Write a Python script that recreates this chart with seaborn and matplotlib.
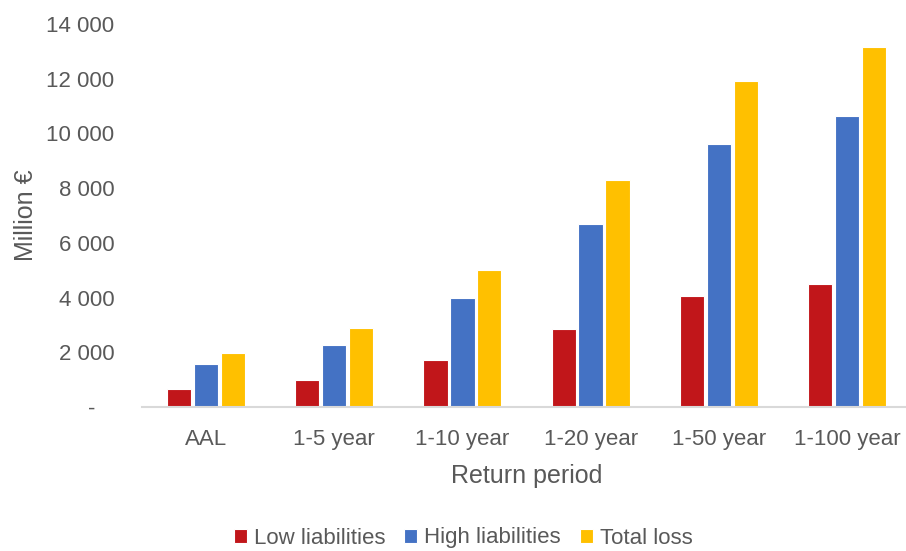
import matplotlib
matplotlib.use("Agg")
import matplotlib.pyplot as plt
import seaborn as sns
import pandas as pd
from matplotlib.ticker import FuncFormatter

categories = ["AAL", "1-5 year", "1-10 year", "1-20 year", "1-50 year", "1-100 year"]
low_liabilities = [660, 975, 1720, 2850, 4060, 4510]
high_liabilities = [1575, 2280, 3970, 6705, 9605, 10655]
total_loss = [1990, 2890, 5000, 8280, 11910, 13170]
series_names = ["Low liabilities", "High liabilities", "Total loss"]
colors = ["#C1161A", "#4472C4", "#FFC000"]

df = pd.DataFrame({
    "Return period": categories * 3,
    "value": low_liabilities + high_liabilities + total_loss,
    "series": [s for s in series_names for _ in categories],
})

sns.set_theme(style="white")
plt.rcParams["font.family"] = ["Liberation Sans", "DejaVu Sans"]
text_color = "#595959"

fig = plt.figure(figsize=(9.06, 5.51), dpi=100)
ax = fig.add_axes([142 / 906, 1 - 407 / 551, (911 - 142) / 906, (407 - 24) / 551])

sns.barplot(data=df, x="Return period", y="value", hue="series",
            palette=colors, saturation=1, width=0.63, gap=0.1,
            edgecolor="white", linewidth=0.8, ax=ax, legend=True)

ax.set_ylim(0, 14000)
ax.set_yticks(range(0, 14001, 2000))

def fmt(v, pos):
    if v == 0:
        return "-   "
    return f"{int(v):,}".replace(",", " ")

ax.yaxis.set_major_formatter(FuncFormatter(fmt))
ax.tick_params(axis="both", length=0, labelsize=16, labelcolor=text_color)
ax.tick_params(axis="y", pad=20)
ax.tick_params(axis="x", pad=16)
for s in ["top", "right", "left"]:
    ax.spines[s].set_visible(False)
ax.spines["bottom"].set_color("#D9D9D9")
ax.spines["bottom"].set_linewidth(1.5)
ax.set_xlabel("Return period", fontsize=18, color=text_color, labelpad=10)
ax.set_ylabel("Million €", fontsize=18, color=text_color, labelpad=6)
ax.grid(False)

handles, labels = ax.get_legend_handles_labels()
ax.legend_.remove()
fig.legend(handles, labels, loc="center", bbox_to_anchor=(463 / 906, 1 - 538 / 551),
           ncol=3, frameon=False, fontsize=16, labelcolor=text_color,
           handlelength=0.6, handleheight=0.6, handletextpad=0.3, columnspacing=0.85,
           borderpad=0.1)

fig.savefig("out.png", dpi=100)
